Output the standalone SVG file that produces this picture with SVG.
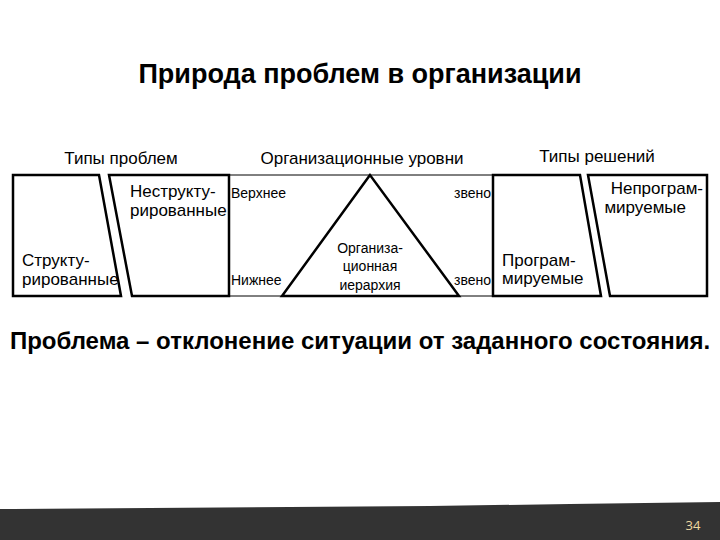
<svg xmlns="http://www.w3.org/2000/svg" width="720" height="540" viewBox="0 0 720 540">
<style>
text{font-family:"Liberation Sans",Arial,sans-serif;fill:#000}
.b{fill:#fff;stroke:#000;stroke-width:2.5}
.t{font-size:17px}
.s{font-size:14px}
.h{font-size:17px}
</style>
<rect width="720" height="540" fill="#fff"/>
<text x="360" y="83" text-anchor="middle" style="font-size:27px;font-weight:bold">Природа проблем в организации</text>
<text class="h" x="121" y="164" text-anchor="middle">Типы проблем</text>
<text class="h" x="362" y="164" text-anchor="middle">Организационные уровни</text>
<text class="h" x="597" y="162" text-anchor="middle">Типы решений</text>
<g id="levels">
<line x1="229" y1="175" x2="493" y2="175" stroke="#000" stroke-width="1"/>
<line x1="229" y1="296" x2="493" y2="296" stroke="#000" stroke-width="1"/>
<text class="s" x="231" y="198">Верхнее</text>
<text class="s" x="231" y="285">Нижнее</text>
<text class="s" x="491" y="198" text-anchor="end">звено</text>
<text class="s" x="491" y="285" text-anchor="end">звено</text>
</g>
<g id="hierarchy">
<polygon points="370,175 282,296 459,296" fill="#fff" stroke="#000" stroke-width="2.5"/>
<text class="s" text-anchor="middle"><tspan x="370" y="253">Организа-</tspan><tspan x="370" y="271">ционная</tspan><tspan x="370" y="290">иерархия</tspan></text>
</g>
<g id="structured">
<polygon class="b" points="13,175 99,175 121,296 13,296"/>
<text class="t" x="22" y="266">Структу-</text>
<text class="t" x="22" y="285">рированные</text>
</g>
<g id="unstructured">
<polygon class="b" points="109,175 229,175 229,296 132,296"/>
<text class="t" x="130" y="197">Неструкту-</text>
<text class="t" x="130" y="216">рированные</text>
</g>
<g id="programmed">
<polygon class="b" points="493,175 580,175 601,296 493,296"/>
<text class="t" x="502" y="266">Програм-</text>
<text class="t" x="502" y="284">мируемые</text>
</g>
<g id="nonprogrammed">
<polygon class="b" points="588,175 707,175 707,296 610,296"/>
<text class="t" x="703" y="194" text-anchor="end">Непрограм-</text>
<text class="t" x="686" y="213" text-anchor="end">мируемые</text>
</g>
<text x="360" y="349" text-anchor="middle" style="font-size:24px;font-weight:bold">Проблема – отклонение ситуации от заданного состояния.</text>
<g id="footer">
<polygon points="13,509 150,508 290,507 430,506 570,504 720,502 720,540 0,540 0,509" fill="#333"/>
<text x="693" y="530" text-anchor="middle" style="font-size:13px;fill:#f0d8a0;font-family:'Open Sans',sans-serif">34</text>
</g>
</svg>
